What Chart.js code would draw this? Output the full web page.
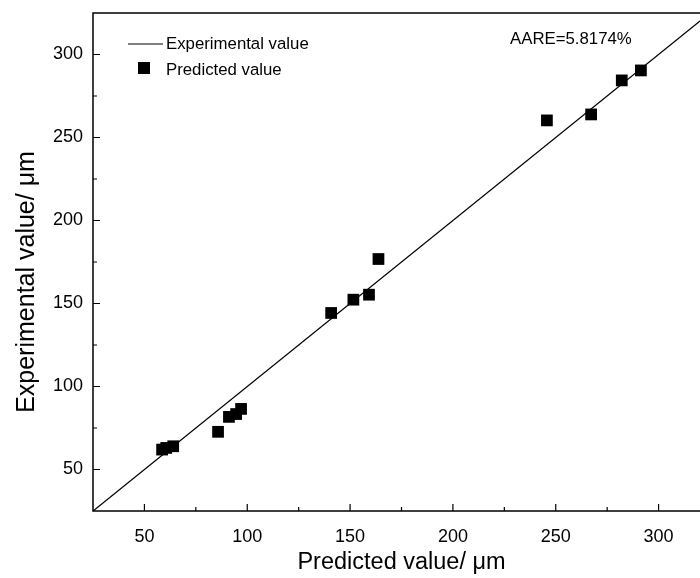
<!DOCTYPE html>
<html>
<head>
<meta charset="utf-8">
<script src="https://cdn.jsdelivr.net/npm/chart.js@4.4.1/dist/chart.umd.min.js"></script>
<style>
    html, body { margin: 0; padding: 0; background: #fff; overflow: hidden; }
    #wrap { width: 720px; height: 578px; }
</style>
</head>
<body>
<div id="wrap"><canvas id="myChart"></canvas></div>
<script>
// predicted vs experimental grain size (um)
var predicted    = [58.6, 60.6, 64.0, 85.8, 91.1, 94.6, 97.0, 140.8, 151.6, 159.2, 163.8, 245.7, 267.2, 282.1, 291.4];
var experimental = [62.0, 63.0, 64.0, 72.7, 81.7, 83.4, 86.5, 144.3, 152.3, 155.3, 176.8, 260.3, 263.9, 284.4, 290.4];
var axisRange = [25, 325];
var tickValues = [50, 100, 150, 200, 250, 300];
var minorValues = [75, 125, 175, 225, 275];
var aareText = 'AARE=5.8174%';
var yTitle = 'Experimental value/ μm';

const fontFamily = '"Liberation Sans", Arial, sans-serif';

const points = predicted.map(function (p, i) { return { x: p, y: experimental[i] }; });
const diagonal = axisRange.map(function (v) { return { x: v, y: v }; });

// frame, inward ticks, legend, AARE note and y title
const decorations = {
    id: 'decorations',
    afterDatasetsDraw(chart) {
        const ctx = chart.ctx;
        const a = chart.chartArea;
        const xs = chart.scales.x;
        const ys = chart.scales.y;
        ctx.save();
        ctx.strokeStyle = '#000';
        ctx.lineWidth = 1.5;
        ctx.strokeRect(a.left, a.top, a.right - a.left, a.bottom - a.top);

        ctx.lineWidth = 1.2;
        ctx.beginPath();
        tickValues.forEach(function (v) {
            const px = xs.getPixelForValue(v);
            ctx.moveTo(px, a.bottom); ctx.lineTo(px, a.bottom - 7);
            const py = ys.getPixelForValue(v);
            ctx.moveTo(a.left, py); ctx.lineTo(a.left + 7, py);
        });
        minorValues.forEach(function (v) {
            const px = xs.getPixelForValue(v);
            ctx.moveTo(px, a.bottom); ctx.lineTo(px, a.bottom - 4);
            const py = ys.getPixelForValue(v);
            ctx.moveTo(a.left, py); ctx.lineTo(a.left + 4, py);
        });
        ctx.stroke();

        // legend
        const ds = chart.data.datasets;
        ctx.font = '16.8px ' + fontFamily;
        ctx.fillStyle = '#000';
        ctx.textBaseline = 'middle';
        ctx.lineWidth = 1;
        ctx.beginPath();
        ctx.moveTo(a.left + 35, a.top + 31);
        ctx.lineTo(a.left + 70, a.top + 31);
        ctx.stroke();
        ctx.fillText(ds[0].label, a.left + 73, a.top + 31);
        ctx.fillRect(a.left + 45, a.top + 49, 12, 12);
        ctx.fillText(ds[1].label, a.left + 73, a.top + 57);

        ctx.fillText(aareText, 510, a.top + 26);

        // y axis title
        ctx.font = '25px ' + fontFamily;
        ctx.textAlign = 'center';
        ctx.translate(27, 282);
        ctx.rotate(-Math.PI / 2);
        ctx.fillText(yTitle, 0, 0);
        ctx.restore();
    }
};

const data = {
    datasets: [
        {
            label: 'Experimental value',
            type: 'line',
            data: diagonal,
            borderColor: '#000',
            borderWidth: 1.3,
            pointRadius: 0,
            fill: false
        },
        {
            label: 'Predicted value',
            type: 'scatter',
            data: points,
            backgroundColor: '#000',
            borderColor: '#000',
            borderWidth: 0,
            pointStyle: 'rect',
            pointRadius: 8.3,
            pointHoverRadius: 8.3
        }
    ]
};

function setTicks(scale) {
    scale.ticks = tickValues.map(function (v) { return { value: v }; });
}

const config = {
    type: 'scatter',
    data,
    options: {
        responsive: true,
        maintainAspectRatio: false,
        animation: false,
        events: [],
        layout: { padding: { top: 13, right: 10, left: 0, bottom: 0 } },
        plugins: {
            legend: { display: false },
            tooltip: { enabled: false }
        },
        scales: {
            x: {
                type: 'linear',
                min: axisRange[0],
                max: axisRange[1],
                afterBuildTicks: setTicks,
                afterFit: function (scale) {
                    scale.height = 67;
                    scale.paddingLeft = 0;
                    scale.paddingRight = 0;
                },
                grid: { display: false },
                border: { display: false },
                ticks: {
                    color: '#000',
                    padding: 7,
                    maxRotation: 0,
                    font: { family: fontFamily, size: 18 }
                },
                title: {
                    display: true,
                    text: 'Predicted value/ μm',
                    color: '#000',
                    padding: { top: 0, bottom: 1 },
                    font: { family: fontFamily, size: 23.5 }
                }
            },
            y: {
                type: 'linear',
                min: axisRange[0],
                max: axisRange[1],
                afterBuildTicks: setTicks,
                afterFit: function (scale) {
                    scale.width = 93;
                    scale.paddingTop = 0;
                    scale.paddingBottom = 0;
                },
                grid: { display: false },
                border: { display: false },
                ticks: {
                    color: '#000',
                    padding: 2,
                    font: { family: fontFamily, size: 18 }
                }
            }
        }
    },
    plugins: [decorations]
};

const myChart = new Chart(document.getElementById('myChart'), config);
</script>
</body>
</html>
